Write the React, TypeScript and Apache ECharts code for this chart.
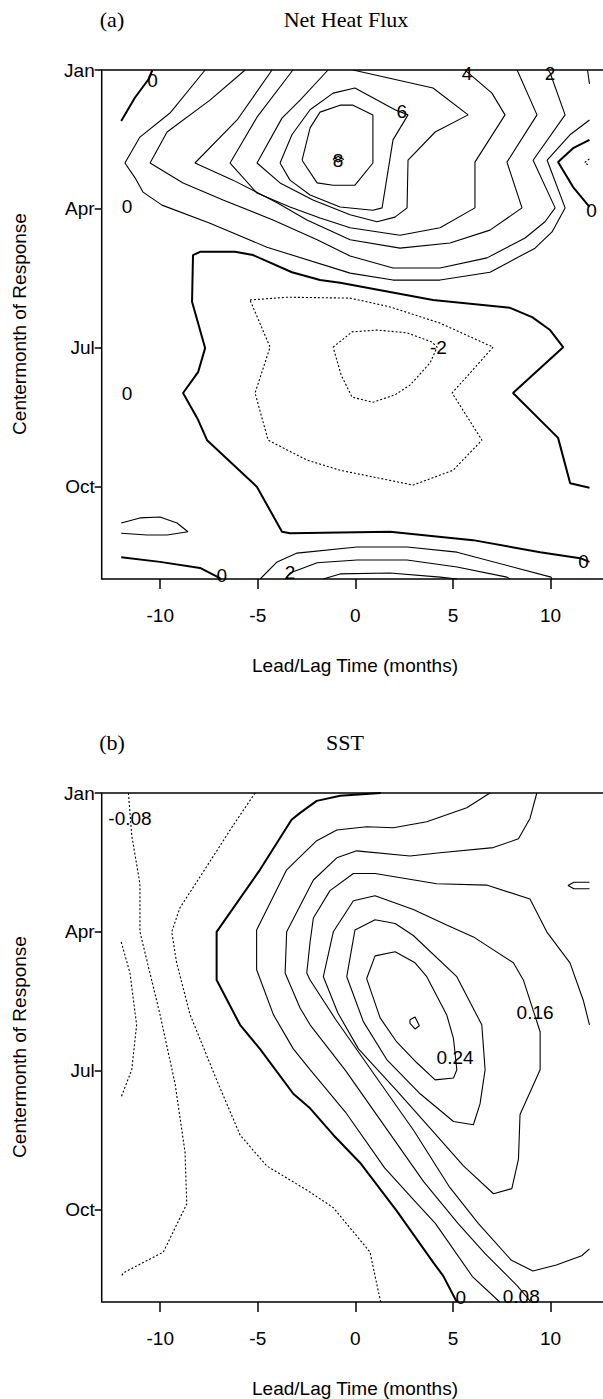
import React, { useEffect, useRef } from "react";
import * as echarts from "echarts";

type Pt = [number, number];

// ---------- axes ----------
const LEAD_TICKS = [-10, -5, 0, 5, 10];
const MONTH_TICKS = [1, 4, 7, 10];
const MONTH_LABELS = ["Jan", "Apr", "Jul", "Oct"];

// ---------- panel (a) Net Heat Flux contours: [lead/lag month, centermonth] ----------
const HF_ZERO_TOPLEFT: Pt[] = [[-12, 2.1], [-11.3, 1.6], [-10.6, 1.2], [-10.4, 1]];
const HF_ONE_CORNER: Pt[] = [[11.9, 1], [12, 1.3]];
const HF_ONE: Pt[] = [[-7.7, 1], [-9.5, 1.93], [-11.04, 2.45], [-11.81, 3.01], [-11.29, 3.33], [-10.88, 3.64], [-9.91, 3.92], [-7.45, 4.31], [-4.53, 4.83], [-0.27, 5.39], [1.93, 5.54], [4.34, 5.54], [6.9, 5.37], [9.21, 4.85], [10.08, 4.5], [10.75, 3.98], [9.83, 2.95], [11.0, 2.4], [12, 2.08]];
const HF_TWO: Pt[] = [[-5.65, 1], [-7.45, 1.65], [-9.65, 2.34], [-10.52, 3.01], [-8.83, 3.44], [-6.78, 3.81], [-4.22, 4.24], [-1.96, 4.67], [-0.27, 5.02], [1.93, 5.28], [4.34, 5.28], [6.75, 5.06], [8.7, 4.63], [9.72, 4.28], [10.24, 3.98], [9.11, 2.95], [10.75, 1.97], [9.98, 1.06], [9.88, 1]];
const HF_THREE: Pt[] = [[-4.27, 1], [-6.06, 2.08], [-8.22, 3.01], [-6.27, 3.38], [-4.01, 3.87], [-2.48, 4.24], [-0.27, 4.67], [2.29, 4.85], [4.85, 4.74], [6.9, 4.46], [8.54, 3.98], [7.77, 2.99], [9.31, 1.97], [8.29, 1]];
const HF_FOUR: Pt[] = [[-3.2, 1], [-5.04, 2.02], [-6.42, 3.01], [-5.04, 3.66], [-3.35, 3.96], [-1.81, 4.2], [-0.27, 4.41], [2.29, 4.57], [4.34, 4.41], [6.13, 3.98], [6.13, 2.99], [7.67, 1.97], [7.0, 1.5], [5.73, 1.04], [5.6, 1]];
const HF_FIVE: Pt[] = [[-1.4, 1], [-2.83, 1.65], [-3.76, 2.04], [-5.04, 3.01], [-3.86, 3.44], [-2.17, 3.81], [-0.27, 4.13], [1.11, 4.28], [2.03, 4.18], [2.65, 3.98], [2.7, 2.95], [4.09, 2.34], [5.78, 1.97], [3.98, 1.39], [-0.12, 1]];
const HF_SIX: Pt[] = [[-3.86, 3.01], [-3.25, 2.4], [-2.32, 1.86], [-1.14, 1.5], [-0.02, 1.39], [2.03, 1.86], [2.7, 1.97], [1.93, 2.51], [1.37, 3.98], [0.9, 4.03], [-0.78, 3.96], [-2.32, 3.7], [-3.35, 3.38], [-3.86, 3.01]];
const HF_SEVEN: Pt[] = [[-2.73, 2.95], [-2.32, 2.25], [-1.81, 1.91], [-0.78, 1.76], [-0.12, 1.76], [0.9, 1.97], [0.9, 3.01], [-0.02, 3.49], [-1.14, 3.49], [-1.96, 3.44], [-2.73, 2.95]];
const HF_EIGHT: Pt[] = [[-1.15, 2.93], [-0.88, 2.87], [-0.6, 2.93], [-0.88, 2.99], [-1.15, 2.93]];
const HF_ZERO_MAIN: Pt[] = [[12, 10.03], [11.01, 9.93], [10.39, 8.95], [8.08, 7.98], [10.65, 6.99], [9.98, 6.62], [9.06, 6.34], [7.93, 6.14], [3.98, 5.97], [-0.78, 5.6], [-1.81, 5.54], [-3.25, 5.37], [-5.24, 5.0], [-6.17, 4.93], [-7.96, 4.93], [-8.32, 5.0], [-8.37, 6.01], [-7.7, 7.01], [-8.06, 7.53], [-8.83, 7.98], [-8.06, 8.56], [-7.6, 9.0], [-5.04, 10.01], [-3.76, 10.98], [-3.35, 11.01], [1.78, 10.98], [6.03, 11.16], [9.47, 11.42], [11.52, 11.55], [12, 11.63]];
const HF_ZERO_RIGHT: Pt[] = [[12, 2.51], [11.16, 2.69], [10.39, 2.99], [11.16, 3.53], [12, 3.96]];
const HF_NEG_TINY: Pt[] = [[12, 2.92], [11.75, 3.0], [12, 3.07]];
const HF_NEG_ONE: Pt[] = [[-5.4, 5.97], [-3.5, 5.91], [-0.27, 5.93], [1.78, 6.12], [4.34, 6.47], [7.06, 6.99], [4.96, 7.98], [6.49, 9.0], [5.01, 9.65], [2.96, 9.97], [-0.78, 9.65], [-2.48, 9.43], [-4.47, 9.0], [-5.14, 7.98], [-4.37, 6.99], [-5.4, 5.97]];
const HF_NEG_TWO: Pt[] = [[-1.14, 6.99], [-0.17, 6.66], [1.11, 6.62], [2.65, 6.68], [3.93, 6.88], [4.19, 6.99], [3.83, 7.33], [2.8, 7.81], [2.03, 8.02], [0.9, 8.18], [-0.17, 8.07], [-0.73, 7.59], [-1.14, 6.99]];
const HF_SMALL_LEFT: Pt[] = [[-12, 10.79], [-11.04, 10.68], [-10.01, 10.66], [-9.14, 10.79], [-8.58, 10.98], [-9.65, 11.05], [-10.68, 11.05], [-12, 11.01]];
const HF_ZERO_BOTTOMLEFT: Pt[] = [[-12, 11.53], [-10.01, 11.63], [-7.96, 11.76], [-7.04, 11.96], [-6.88, 12]];
const HF_BOTTOM_ONE: Pt[] = [[-4.88, 12], [-4.01, 11.63], [-2.99, 11.44], [0.09, 11.31], [2.65, 11.31], [5.21, 11.42], [10.03, 11.96], [10.08, 12]];
const HF_BOTTOM_TWO: Pt[] = [[-3.6, 12], [-3.35, 11.87], [-1.96, 11.65], [0.09, 11.59], [2.65, 11.59], [5.21, 11.74], [7.77, 11.96], [7.93, 12]];
const HF_BOTTOM_THREE: Pt[] = [[-1.65, 12], [-0.78, 11.89], [1.78, 11.87], [4.34, 11.96], [5.21, 12]];

const HF_LABELS: [string, number, number][] = [
  ["0", -10.4, 1.22], ["4", 5.73, 1.08], ["2", 9.98, 1.08], ["6", 2.38, 1.9], ["8", -0.89, 2.95],
  ["0", -11.7, 3.95], ["0", 12.1, 4.03], ["-2", 4.26, 6.99], ["0", -11.7, 7.99],
  ["0", -6.85, 11.93], ["2", -3.35, 11.85], ["0", 11.7, 11.63],
];

// ---------- panel (b) SST contours ----------
const SST_NEG_EIGHT: Pt[] = [[-11.63, 1], [-11.46, 1.92], [-11.04, 2.96], [-11.04, 4.0], [-10.01, 5.79], [-9.24, 7.28], [-8.73, 8.76], [-8.64, 9.88], [-9.84, 10.92], [-11.89, 11.37], [-12, 11.45]];
const SST_NEG_TWELVE: Pt[] = [[-12, 4.22], [-11.55, 4.89], [-11.21, 6.01], [-11.46, 6.98], [-12, 7.57]];
const SST_NEG_FOUR: Pt[] = [[-5.14, 1], [-6.25, 1.69], [-7.62, 2.59], [-8.99, 3.48], [-9.41, 4.0], [-9.16, 4.67], [-8.47, 5.79], [-7.11, 7.2], [-5.91, 8.39], [-4.54, 9.06], [-2.49, 9.58], [-1.13, 9.96], [0.75, 10.92], [1.01, 11.44], [1.3, 12]];
const SST_ZERO: Pt[] = [[1.3, 1], [-0.78, 1.06], [-1.98, 1.17], [-2.83, 1.43], [-3.27, 1.58], [-4.89, 2.66], [-7.11, 4.0], [-7.11, 5.04], [-5.91, 6.01], [-4.89, 6.53], [-3.18, 7.5], [-2.35, 7.8], [-1.13, 8.39], [0.24, 8.99], [2.12, 10.03], [4.0, 11.15], [4.51, 11.44], [5.2, 12]];
const SST_P04: Pt[] = [[6.9, 1], [5.71, 1.32], [3.66, 1.62], [1.95, 1.75], [0.58, 1.73], [-0.95, 1.8], [-1.98, 2.03], [-3.52, 2.66], [-5.06, 3.96], [-5.06, 4.82], [-4.2, 5.79], [-3.18, 6.53], [-2.32, 6.98], [-0.5, 7.9], [1.5, 9.1], [3.0, 9.8], [4.1, 10.3], [6.0, 11.45], [7.4, 12]];
const SST_P08: Pt[] = [[9.3, 1], [8.95, 1.55], [8.36, 1.99], [7.07, 2.18], [4.34, 2.29], [2.8, 2.36], [0.07, 2.25], [-0.95, 2.4], [-2.15, 2.88], [-3.52, 4.0], [-3.6, 4.89], [-2.84, 5.64], [-2.32, 6.01], [-0.5, 7.0], [1.5, 8.2], [3.5, 9.4], [5.26, 10.3], [6.64, 10.95], [8.3, 11.65], [9.0, 12]];
const SST_P12: Pt[] = [[12, 6.01], [11.69, 5.49], [11.0, 4.67], [9.81, 4.0], [8.95, 3.29], [6.73, 2.99], [4.17, 2.96], [1.01, 2.74], [-0.1, 2.74], [-1.3, 3.11], [-2.15, 3.7], [-2.32, 4.22], [-2.49, 4.89], [-2.32, 5.04], [-1.0, 5.9], [1.0, 7.1], [3.0, 8.3], [4.8, 9.5], [6.3, 10.3], [8.0, 11.1], [9.1, 11.33], [10.3, 11.2], [11.6, 11.0], [12, 10.85]];
const SST_P12_NOTCH: Pt[] = [[12, 2.93], [11.2, 2.93], [10.9, 3.0], [11.2, 3.07], [12, 3.07]];
const SST_P16: Pt[] = [[-0.1, 3.33], [1.01, 3.22], [2.97, 3.52], [4.68, 3.85], [6.05, 4.11], [8.1, 4.67], [8.61, 5.04], [9.47, 6.16], [9.47, 6.98], [8.44, 7.95], [8.36, 8.91], [8.02, 9.55], [7.08, 9.66], [5.54, 9.06], [3.83, 8.24], [2.12, 7.43], [0.16, 6.53], [-0.9, 5.75], [-1.64, 4.97], [-1.13, 4.0], [-0.1, 3.33]];
const SST_P20: Pt[] = [[-0.02, 3.96], [1.01, 3.74], [2.04, 3.82], [2.97, 4.08], [5.2, 4.97], [6.48, 6.01], [6.65, 6.98], [6.39, 7.72], [6.05, 8.17], [5.03, 8.1], [3.32, 7.5], [1.61, 6.76], [0.41, 5.94], [-0.44, 4.97], [-0.02, 3.96]];
const SST_P24: Pt[] = [[1.01, 4.52], [2.04, 4.43], [3.06, 4.67], [3.66, 4.97], [4.68, 5.79], [5.03, 6.31], [5.2, 6.98], [5.03, 7.16], [4.09, 7.2], [3.15, 6.83], [2.12, 6.38], [1.27, 5.86], [0.58, 5.01], [1.01, 4.52]];
const SST_P28: Pt[] = [[2.8, 5.9], [3.06, 5.84], [3.28, 6.03], [3.06, 6.1], [2.8, 5.98], [2.8, 5.9]];

const SST_LABELS: [string, number, number][] = [
  ["-0.08", -11.55, 1.55], ["0.16", 9.21, 5.75], ["0.24", 5.11, 6.72], ["0", 5.4, 11.9], ["0.08", 8.5, 11.88],
];

type Kind = "thin" | "thick" | "dotted";

const HF_LINES: [Pt[], Kind][] = [
  [HF_ZERO_TOPLEFT, "thick"], [HF_ONE_CORNER, "thin"], [HF_ONE, "thin"], [HF_TWO, "thin"], [HF_THREE, "thin"],
  [HF_FOUR, "thin"], [HF_FIVE, "thin"], [HF_SIX, "thin"], [HF_SEVEN, "thin"], [HF_EIGHT, "thin"],
  [HF_ZERO_MAIN, "thick"], [HF_ZERO_RIGHT, "thick"], [HF_NEG_TINY, "dotted"], [HF_NEG_ONE, "dotted"],
  [HF_NEG_TWO, "dotted"], [HF_SMALL_LEFT, "thin"], [HF_ZERO_BOTTOMLEFT, "thick"], [HF_BOTTOM_ONE, "thin"],
  [HF_BOTTOM_TWO, "thin"], [HF_BOTTOM_THREE, "thin"],
];

const SST_LINES: [Pt[], Kind][] = [
  [SST_NEG_EIGHT, "dotted"], [SST_NEG_TWELVE, "dotted"], [SST_NEG_FOUR, "dotted"], [SST_ZERO, "thick"],
  [SST_P04, "thin"], [SST_P08, "thin"], [SST_P12, "thin"], [SST_P12_NOTCH, "thin"], [SST_P16, "thin"],
  [SST_P20, "thin"], [SST_P24, "thin"], [SST_P28, "thin"],
];

const SANS = "'Liberation Sans', Arial, Helvetica, sans-serif";
const SERIF = "'Liberation Serif', 'Times New Roman', serif";

function lineSeries(data: Pt[], kind: Kind, idx: number) {
  return {
    type: "line",
    xAxisIndex: idx,
    yAxisIndex: idx,
    data,
    symbol: "none",
    showSymbol: false,
    silent: true,
    smooth: false,
    clip: true,
    lineStyle: {
      color: "#000",
      width: kind === "thick" ? 2 : 1.1,
      type: kind === "dotted" ? [2, 2] : "solid",
    },
  };
}

function labelSeries(labels: [string, number, number][], idx: number) {
  return {
    type: "scatter",
    xAxisIndex: idx,
    yAxisIndex: idx,
    symbol: "circle",
    symbolSize: 0,
    silent: true,
    itemStyle: { color: "#000", opacity: 1 },
    data: labels.map(([t, x, y]) => ({ name: t, value: [x, y] })),
    label: {
      show: true,
      position: "inside",
      formatter: "{b}",
      fontSize: 19,
      fontFamily: SANS,
      color: "#000",
      opacity: 1,
      textBorderWidth: 0,
    },
  };
}

const GRID_LEFT = 101.7;
const GRID_RIGHT = 3;
const GRID_H = 509;
const TOPS = [70, 793];

function xAxis(idx: number) {
  return {
    gridIndex: idx,
    type: "value",
    min: -13,
    max: 13,
    axisLine: { show: false, onZero: false },
    splitLine: { show: false },
    axisTick: { show: true, length: 10, customValues: LEAD_TICKS, lineStyle: { color: "#000", width: 1.5 } },
    axisLabel: { show: true, customValues: LEAD_TICKS, fontSize: 19, fontFamily: SANS, color: "#000", margin: 27 },
  };
}

function yAxis(idx: number) {
  return {
    gridIndex: idx,
    type: "value",
    min: 1,
    max: 12,
    inverse: true,
    axisLine: { show: false, onZero: false },
    splitLine: { show: false },
    axisTick: { show: true, length: 7, customValues: MONTH_TICKS, lineStyle: { color: "#000", width: 1.5 } },
    axisLabel: {
      show: true,
      customValues: MONTH_TICKS,
      formatter: (v: number) => MONTH_LABELS[MONTH_TICKS.indexOf(Math.round(v))] ?? "",
      fontSize: 19,
      fontFamily: SANS,
      color: "#000",
      margin: 7,
    },
  };
}

function txt(text: string, x: number, y: number, font: string, size: number, rotation = 0) {
  return {
    type: "text",
    x,
    y,
    rotation,
    silent: true,
    style: {
      text,
      fill: "#000",
      fontSize: size,
      fontFamily: font,
      textAlign: "center",
      textVerticalAlign: "middle",
      align: "center",
      verticalAlign: "middle",
    },
  };
}

export default function App() {
  const ref = useRef<HTMLDivElement>(null);
  useEffect(() => {
    if (!ref.current) return;
    const chart = echarts.init(ref.current, null, { renderer: "svg" });
    const dy = TOPS[1] - TOPS[0];
    const option: any = {
      animation: false,
      backgroundColor: "#fff",
      grid: TOPS.map((t) => ({
        left: GRID_LEFT,
        right: GRID_RIGHT,
        top: t,
        height: GRID_H,
        show: true,
        borderColor: "#000",
        borderWidth: 1.5,
        backgroundColor: "transparent",
      })),
      xAxis: [xAxis(0), xAxis(1)],
      yAxis: [yAxis(0), yAxis(1)],
      series: [
        ...HF_LINES.map(([d, k]) => lineSeries(d, k, 0)),
        labelSeries(HF_LABELS, 0),
        ...SST_LINES.map(([d, k]) => lineSeries(d, k, 1)),
        labelSeries(SST_LABELS, 1),
      ],
      graphic: [
        txt("(a)", 112, 19, SERIF, 22),
        txt("Net Heat Flux", 346, 19, SERIF, 22),
        txt("(b)", 112, 19 + dy, SERIF, 22),
        txt("SST", 345, 19 + dy, SERIF, 22),
        txt("Centermonth of Response", 19, 324, SANS, 19, Math.PI / 2),
        txt("Centermonth of Response", 19, 324 + dy, SANS, 19, Math.PI / 2),
        txt("Lead/Lag Time (months)", 355, 665, SANS, 19),
        txt("Lead/Lag Time (months)", 355, 665 + dy, SANS, 19),
      ],
    };
    chart.setOption(option);
    return () => chart.dispose();
  }, []);
  return (
    <div style={{ position: "absolute", left: 0, top: 0, width: 603, height: 1399, overflow: "hidden", background: "#fff" }}>
      <div ref={ref} style={{ width: 612, height: 1399 }} />
    </div>
  );
}
